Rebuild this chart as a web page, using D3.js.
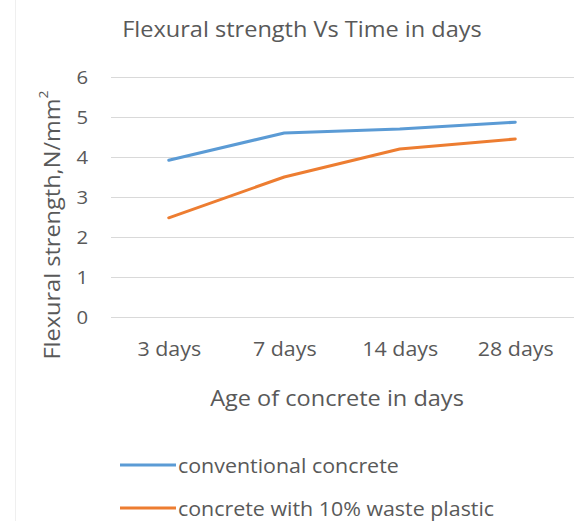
<!DOCTYPE html>
<html>
<head>
<meta charset="utf-8">
<script src="https://cdn.jsdelivr.net/npm/d3@7"></script>
<style>
  html, body { margin: 0; padding: 0; background: #fff; }
  svg { display: block; }
  text { font-family: "Open Sans", Lato, sans-serif; fill: #595959; }
</style>
</head>
<body>
<script>
// Flexural strength of two concrete mixes over curing age
const categories = ["3 days", "7 days", "14 days", "28 days"];
const conventional = [3.92, 4.6, 4.7, 4.87];
const wastePlastic = [2.48, 3.5, 4.2, 4.45];
const yTicks = [0, 1, 2, 3, 4, 5, 6];
const seriesNames = ["conventional concrete", "concrete with 10% waste plastic"];
const seriesColors = ["#5B9BD5", "#ED7D31"];

const W = 574, H = 521;
const plot = { left: 111, right: 573, top: 77, bottom: 317 };
const FONT = '"Open Sans", Lato, sans-serif';
const STRETCH = 1.07; // text is set slightly wide

const svg = d3.select("body").append("svg")
  .attr("width", W).attr("height", H);

// place a text at (x, y) with a horizontal stretch about its anchor
function placed(parent, px, py, rot) {
  return parent.append("text")
    .attr("transform", `translate(${px},${py})` + (rot ? ` rotate(${rot})` : "") + ` scale(${STRETCH},1)`);
}

// faint chart-area border on the left
svg.append("line")
  .attr("x1", 15.5).attr("x2", 15.5).attr("y1", 0).attr("y2", H)
  .attr("stroke", "#efefef").attr("stroke-width", 1);

const x = d3.scalePoint()
  .domain(categories)
  .range([plot.left, plot.right])
  .padding(0.5);

const y = d3.scaleLinear()
  .domain([0, 6])
  .range([plot.bottom, plot.top]);

// horizontal gridlines
svg.append("g")
  .selectAll("line")
  .data(yTicks)
  .join("line")
  .attr("x1", plot.left).attr("x2", W)
  .attr("y1", d => Math.round(y(d)) + 0.5)
  .attr("y2", d => Math.round(y(d)) + 0.5)
  .attr("stroke", "#d9d9d9").attr("stroke-width", 1);

// y axis labels
const yAxis = d3.axisLeft(y).tickValues(yTicks).tickFormat(d3.format("d"))
  .tickSize(0).tickPadding(0);
const gy = svg.append("g")
  .attr("transform", `translate(${plot.left - 23},0)`)
  .call(yAxis);
gy.select(".domain").remove();
gy.selectAll("text")
  .attr("transform", `scale(${STRETCH},1)`)
  .style("font-size", "19px")
  .style("font-family", FONT)
  .attr("fill", "#595959");

// x axis labels
const xAxis = d3.axisBottom(x).tickSize(0).tickPadding(0);
const gx = svg.append("g")
  .attr("transform", `translate(0,${plot.bottom + 25})`)
  .call(xAxis);
gx.select(".domain").remove();
gx.selectAll("text")
  .attr("transform", `scale(${STRETCH},1)`)
  .style("font-size", "20px")
  .style("font-family", FONT)
  .attr("fill", "#595959");

// series lines
const line = d3.line()
  .x((d, i) => x(categories[i]))
  .y(d => y(d));

[conventional, wastePlastic].forEach((vals, k) => {
  svg.append("path")
    .datum(vals)
    .attr("d", line)
    .attr("fill", "none")
    .attr("stroke", seriesColors[k])
    .attr("stroke-width", 3)
    .attr("stroke-linejoin", "round")
    .attr("stroke-linecap", "round");
});

// title
placed(svg, 302, 29)
  .attr("text-anchor", "middle")
  .attr("dominant-baseline", "central")
  .style("font-size", "22px")
  .text("Flexural strength Vs Time in days");

// x axis title
placed(svg, 337, 398)
  .attr("text-anchor", "middle")
  .attr("dominant-baseline", "central")
  .style("font-size", "22px")
  .text("Age of concrete in days");

// y axis title
const yt = placed(svg, 51, 225, -90)
  .attr("text-anchor", "middle")
  .attr("dominant-baseline", "central")
  .style("font-size", "22px");
yt.append("tspan").text("Flexural strength,N/mm");
yt.append("tspan").attr("dy", -8).style("font-size", "13px").text("2");

// legend
const legend = svg.append("g");
seriesNames.forEach((name, k) => {
  const ly = 465 + k * 43;
  legend.append("line")
    .attr("x1", 120).attr("x2", 176)
    .attr("y1", ly).attr("y2", ly)
    .attr("stroke", seriesColors[k]).attr("stroke-width", 3);
  placed(legend, 178, ly)
    .attr("dominant-baseline", "central")
    .style("font-size", "20px")
    .text(name);
});
</script>
</body>
</html>
